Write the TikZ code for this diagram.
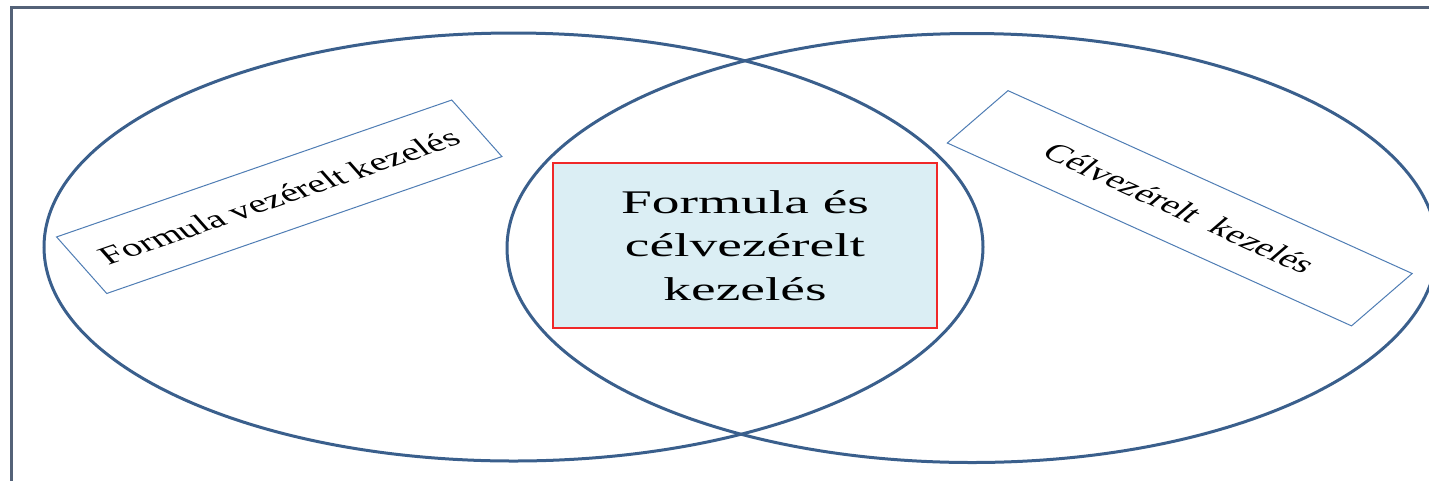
\documentclass[tikz,border=0pt]{standalone}
\usepackage{fontspec}
\setmainfont{Liberation Serif}
\newfontfamily\wideC[FakeStretch=1.68]{Liberation Serif}
\usetikzlibrary{shapes.geometric}
\definecolor{ellblue}{RGB}{58,95,140}
\definecolor{boxblue}{RGB}{79,125,180}
\definecolor{framecol}{RGB}{84,98,120}
\definecolor{cfill}{RGB}{219,238,244}
\definecolor{cred}{RGB}{240,40,40}
\tikzset{
  setshape/.style={ellipse, draw=ellblue, line width=2.25pt, inner sep=0pt},
  tiltbox/.style={draw=boxblue, line width=0.75pt, fill=white, inner sep=0pt,
     minimum height=48.5pt, transform shape, font=\fontsize{19}{23}\selectfont},
  midbox/.style={draw=cred, line width=1pt, fill=cfill, inner sep=0pt,
     minimum width=288pt, minimum height=123.75pt, align=center,
     font=\wideC\fontsize{24.75}{32.6}\selectfont}
}
\begin{document}
\begin{tikzpicture}[x=0.75pt,y=-0.75pt]
\clip (0,0) rectangle (1429,480);
\useasboundingbox (0,0) rectangle (1429,480);
\draw[framecol, line width=1.6pt] (11.5,481) -- (11.5,7.5) -- (1430,7.5);
\node[setshape, minimum width=704.25pt, minimum height=321pt] (leftset) at (513.5,247) {};
\node[setshape, minimum width=697.5pt, minimum height=321.75pt] (rightset) at (972,248) {};
\begin{scope}[xscale=1.6]
\node[tiltbox, minimum width=211.8pt, rotate=29] (formbox) at (174.53,196.75)
  {Formula vezérelt kezelés};
\node[tiltbox, minimum width=233.9pt, rotate=-35.9] (celbox) at (737.34,208.25)
  {Célvezérelt\hspace{0.5em}kezelés};
\end{scope}
\node[midbox] (bothbox) at (745,245.5) {Formula és\\célvezérelt\\kezelés};
\end{tikzpicture}
\end{document}
